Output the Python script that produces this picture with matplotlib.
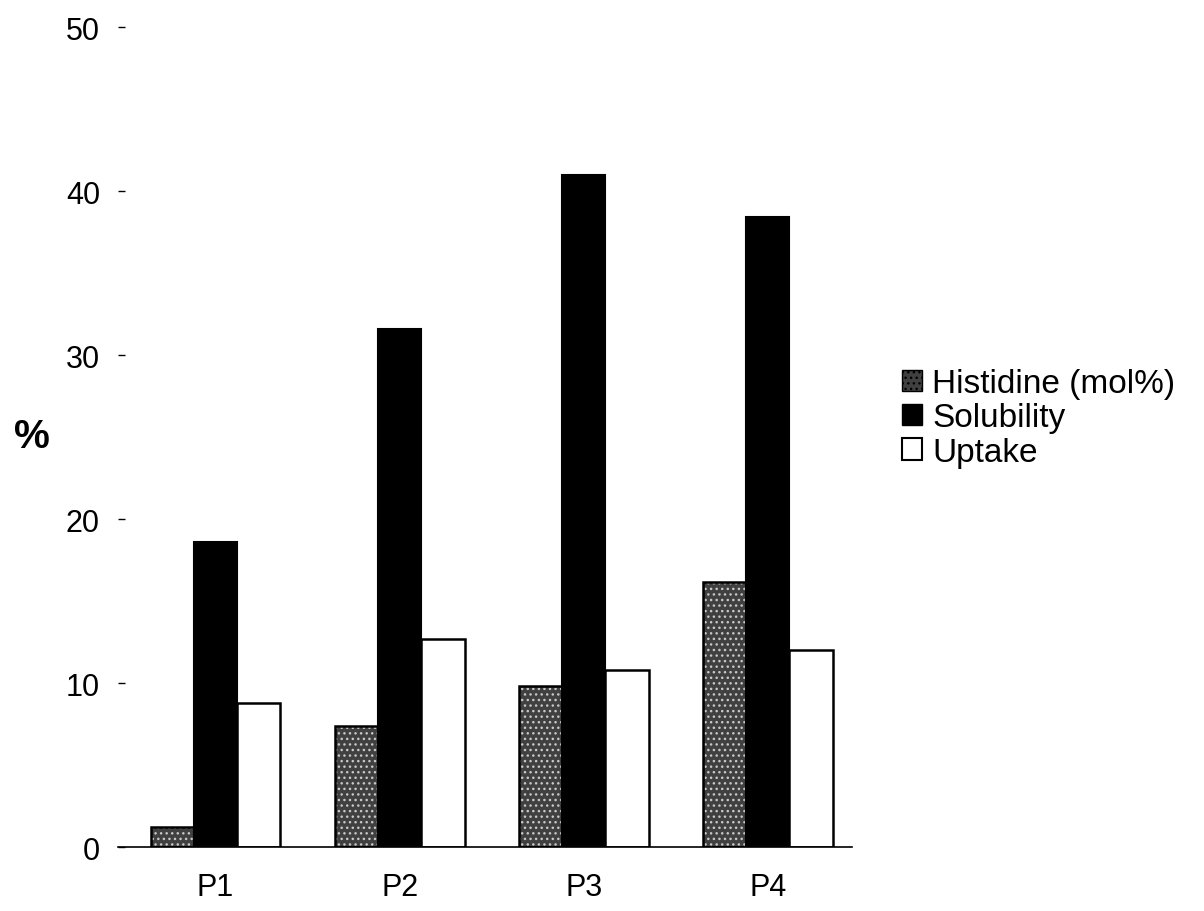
import matplotlib
matplotlib.use("Agg")
import matplotlib.pyplot as plt
from matplotlib.patches import Patch
import numpy as np

# polymer samples and the three measured quantities (%)
samples = ["P1", "P2", "P3", "P4"]
histidine = [1.2, 7.4, 9.8, 16.2]
solubility = [18.6, 31.6, 41.0, 38.4]
uptake = [8.8, 12.7, 10.8, 12.0]

plt.rcParams["font.family"] = ["Liberation Sans", "DejaVu Sans"]
plt.rcParams["hatch.linewidth"] = 1.0

fig = plt.figure(figsize=(12.04, 9.12), dpi=100)
ax = fig.add_axes([0.098, 0.070, 0.610, 0.899])

x = np.arange(len(samples))
w = 0.235

# stippled histidine bars: light speckle hatch over dark grey, black outline on top
ax.bar(x - w, histidine, w, color="#404040", hatch="...", edgecolor="#c8c8c8",
       linewidth=0, zorder=2)
ax.bar(x - w, histidine, w, fill=False, edgecolor="black", linewidth=1.8, zorder=3)
ax.bar(x, solubility, w, color="black", edgecolor="black", linewidth=1.5, zorder=2)
ax.bar(x + w, uptake, w, color="white", edgecolor="black", linewidth=1.8, zorder=2)

ax.set_xlim(-0.53, 3.46)
ax.set_ylim(0, 50)
ax.set_yticks([0, 10, 20, 30, 40, 50])
ax.set_xticks(x)
ax.set_xticklabels(samples)
ax.tick_params(axis="y", direction="in", length=5, width=1, pad=13, labelsize=22)
ax.tick_params(axis="x", length=0, pad=18, labelsize=22)
for side in ("left", "right", "top"):
    ax.spines[side].set_visible(False)
ax.spines["bottom"].set_linewidth(1.2)

# the unit sits far out to the left, level with the middle of the axis
fig.text(32 / 1204, 1 - 437 / 912, "%", fontsize=29, fontweight="bold",
         ha="center", va="center")

# legend handles mirror the bar styles
handles = [
    Patch(facecolor="#404040", edgecolor="black", hatch="...", label="Histidine (mol%)"),
    Patch(facecolor="black", edgecolor="black", label="Solubility"),
    Patch(facecolor="white", edgecolor="black", linewidth=1.5, label="Uptake"),
]
fig.legend(handles=handles, loc="center left", bbox_to_anchor=(902 / 1204, 1 - 419 / 912),
           frameon=False, fontsize=24, handlelength=0.6, handleheight=0.6,
           handletextpad=0.3, labelspacing=0.1, borderpad=0, borderaxespad=0)

fig.savefig("out.png", dpi=100)
